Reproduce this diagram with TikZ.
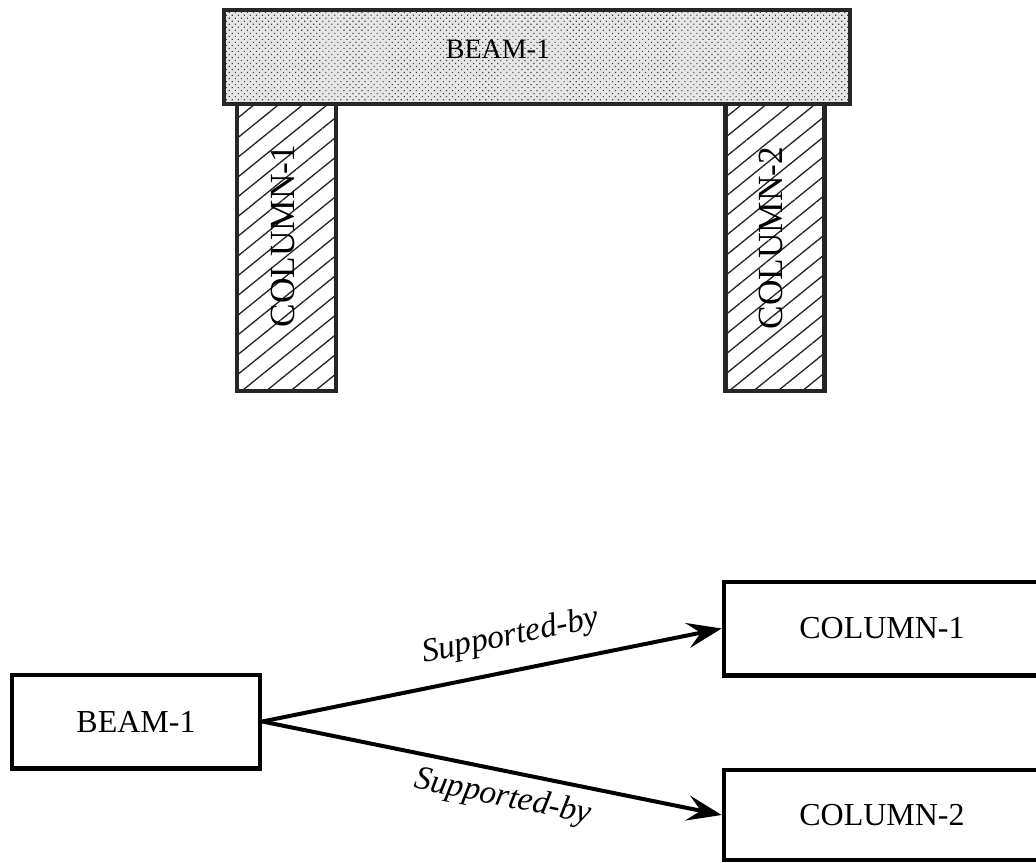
\documentclass[tikz,border=0pt]{standalone}
\usepackage{fontspec}
\setmainfont{Liberation Serif}
\usetikzlibrary{patterns.meta,arrows.meta}

\begin{document}
\begin{tikzpicture}[x=0.75pt, y=-0.75pt,
  % physical members of the frame
  beamshape/.style={draw=black!85, line width=3.3pt, inner sep=0pt,
    preaction={fill=black!10},
    pattern={Dots[distance=3.2pt, radius=0.6pt, angle=45]}, pattern color=black!75},
  colshape/.style={draw=black!85, line width=3.3pt, inner sep=0pt, fill=white,
    postaction={pattern={Lines[angle=39, distance=11.5pt, line width=1pt]}, pattern color=black!85}},
  membertext/.style={inner sep=0pt, font=\fontsize{21}{25}\selectfont},
  coltext/.style={inner sep=0pt, rotate=90, font=\fontsize{26.5}{30}\selectfont},
  % semantic network
  entity/.style={draw=black, line width=3.5pt, inner sep=0pt,
    font=\fontsize{24}{28}\selectfont},
  relation/.style={line width=3pt, -{Stealth[length=26pt, width=19pt, inset=10pt]}},
  rellabel/.style={sloped, font=\itshape\fontsize{25}{30}\selectfont}
]
\useasboundingbox (0,0) rectangle (1036,863);
\clip (0,0) rectangle (1036,863);

% --- the frame: two columns carrying a beam ---
\node[colshape, minimum width=74pt, minimum height=215pt] (c1) at (286.5,247.5) {};
\node[colshape, minimum width=74pt, minimum height=215pt] (c2) at (775,247.5) {};
\node[beamshape, minimum width=469.5pt, minimum height=70.5pt] (b) at (537,57) {};

\node[membertext] (btext) at (498,49) {BEAM-1};
\node[coltext] (c1text) at (283,236) {COLUMN-1};
\node[coltext] (c2text) at (771,238) {COLUMN-2};

% --- the same structure as a semantic network ---
\node[entity, minimum width=186pt, minimum height=70pt] (beam) at (136,721.5) {BEAM-1};
\node[entity, minimum width=237pt, minimum height=70pt] (col1) at (882,628.5) {COLUMN-1};
\node[entity, minimum width=237pt, minimum height=67.5pt] (col2) at (882,815) {COLUMN-2};

\draw[relation] (beam.east) -- node[rellabel, pos=0.555, above=9pt] {Supported-by} (col1.west);
\draw[relation] (beam.east) -- node[rellabel, pos=0.535, below=4pt] {Supported-by} (col2.west);
\end{tikzpicture}
\end{document}
